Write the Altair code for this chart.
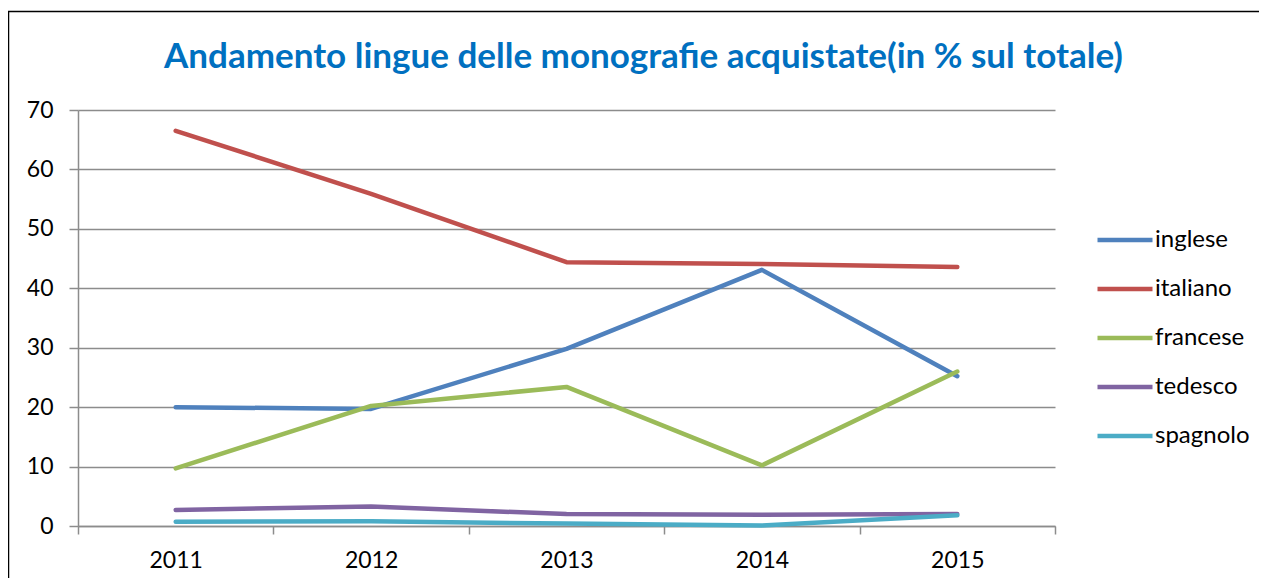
import altair as alt
import pandas as pd

years = ["2011", "2012", "2013", "2014", "2015"]
series = ["inglese", "italiano", "francese", "tedesco", "spagnolo"]
inglese = [20.0, 19.7, 29.8, 43.1, 25.2]
italiano = [66.5, 55.9, 44.4, 44.1, 43.6]
francese = [9.7, 20.2, 23.4, 10.2, 26.0]
tedesco = [2.7, 3.3, 2.0, 1.9, 2.0]
spagnolo = [0.7, 0.8, 0.4, 0.1, 1.8]
colors = ["#4F81BD", "#C0504D", "#9BBB59", "#8064A2", "#4BACC6"]
y_ticks = [0, 10, 20, 30, 40, 50, 60, 70]

values = {"inglese": inglese, "italiano": italiano, "francese": francese,
          "tedesco": tedesco, "spagnolo": spagnolo}
rows = []
for i, s in enumerate(series):
    for y, v in zip(years, values[s]):
        rows.append({"anno": y, "lingua": s, "valore": v, "ordine": i})
df = pd.DataFrame(rows)

FONT = "Lato"
GRID = "#8c8c8c"

lines = alt.Chart(df).mark_line(strokeWidth=4.5, strokeCap="round", strokeJoin="round").encode(
    x=alt.X("anno:O", scale=alt.Scale(type="band", paddingInner=0, paddingOuter=0),
            axis=alt.Axis(title=None, grid=False, tickBand="extent", labelAngle=0,
                          domainColor=GRID, tickColor=GRID, tickSize=8,
                          domainWidth=1.5, tickWidth=1.5,
                          labelFont=FONT, labelFontSize=23, labelColor="black",
                          labelPadding=15)),
    y=alt.Y("valore:Q", scale=alt.Scale(domain=[0, 70], nice=False),
            axis=alt.Axis(title=None, values=y_ticks, grid=True, gridColor=GRID,
                          gridWidth=1.5, domainColor=GRID, tickColor=GRID,
                          domainWidth=1.5, tickWidth=1.5, tickSize=9,
                          labelFont=FONT, labelFontSize=23, labelColor="black",
                          labelPadding=16)),
    color=alt.Color("lingua:N", scale=alt.Scale(domain=series, range=colors),
                    sort=series,
                    legend=alt.Legend(title=None, orient="none", legendX=1017, legendY=100,
                                      symbolType="stroke", symbolSize=3025,
                                      symbolStrokeWidth=4.5, labelFont=FONT,
                                      labelFontSize=24, labelColor="black",
                                      labelOffset=0, rowPadding=7)),
    detail="lingua:N",
    order="ordine:Q",
)

frame_data = alt.Data(values=[{"k": 1}])
left_edge = alt.Chart(frame_data).mark_rule(color="black", strokeWidth=1.5).encode(
    x=alt.value(-69.5), y=alt.value(-98.5), y2=alt.value(480))
top_edge = alt.Chart(frame_data).mark_rule(color="black", strokeWidth=1.5).encode(
    x=alt.value(-70), x2=alt.value(1185), y=alt.value(-98.5))

chart = alt.layer(lines, left_edge, top_edge).properties(
    width=977, height=416,
    padding={"left": 70, "top": 102, "right": 204, "bottom": 52},
    autosize=alt.AutoSizeParams(type="none"),
    title=alt.TitleParams(
        "Andamento lingue delle monografie acquistate(in % sul totale)",
        font=FONT, fontSize=35, fontWeight="bold", color="#0070C0",
        anchor="middle", dx=77, offset=-64),
).configure_view(stroke=None)

chart.save("out.html", embed_options={"renderer": "svg", "actions": False})
